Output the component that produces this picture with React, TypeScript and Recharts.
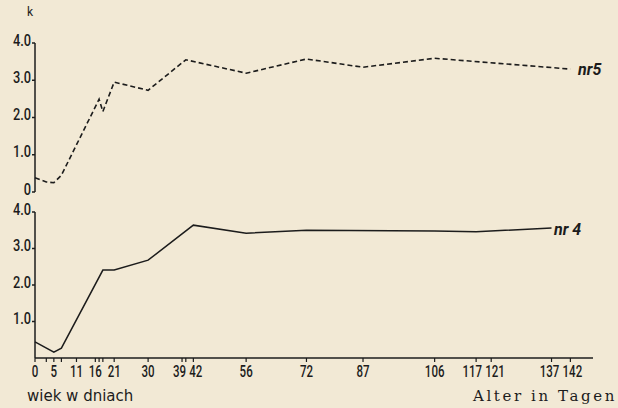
import React from 'react';
import { LineChart, Line, XAxis, YAxis } from 'recharts';

// Days at which ticks are drawn on the shared x axis
const tickDays = [0, 3, 5, 7, 11, 16, 17, 18, 21, 30, 39, 40, 42, 56, 72, 87, 106, 117, 121, 137, 142];
// Days that carry a label
const labeledDays = [0, 5, 11, 16, 21, 30, 39, 42, 56, 72, 87, 106, 117, 121, 137, 142];
const yTicksTop = [0, 1, 2, 3, 4];
const yTicksBottom = [1, 2, 3, 4];

// nr 5 (upper panel, dashed)
const nr5Days = [0, 3, 5, 7, 17, 18, 21, 30, 40, 56, 72, 87, 106, 142];
const nr5Values = [0.38, 0.27, 0.25, 0.45, 2.49, 2.16, 2.95, 2.73, 3.55, 3.19, 3.57, 3.35, 3.59, 3.3];

// nr 4 (lower panel, solid)
const nr4Days = [0, 5, 7, 18, 21, 30, 42, 56, 72, 106, 117, 137];
const nr4Values = [0.44, 0.16, 0.27, 2.41, 2.41, 2.68, 3.64, 3.42, 3.5, 3.48, 3.46, 3.56];

const nr5Data = nr5Days.map((d, i) => ({ day: d, v: nr5Values[i] }));
const nr4Data = nr4Days.map((d, i) => ({ day: d, v: nr4Values[i] }));

const INK = '#1c1c1c';
const BG = '#f2e9d5';
const FONT = 'Roboto, "DejaVu Sans", sans-serif';

const WIDTH = 618;
const PLOT_LEFT = 35;
const PLOT_RIGHT = 25;
const X_MAX = 148;
const PX_PER_DAY = (WIDTH - PLOT_LEFT - PLOT_RIGHT) / X_MAX;
const CHAR_W = 6.6;

const yFmt = (v: number) => (v === 0 ? '0' : v.toFixed(1));
const xFmt = (d: number) => (labeledDays.includes(d) ? String(d) : '');

// nudge crowded neighbouring labels apart (like the printed original)
const overlap = (a: number, b: number) => {
  const need = ((String(a).length + String(b).length) / 2) * CHAR_W + 2;
  const gap = (b - a) * PX_PER_DAY;
  return need > gap ? (need - gap) / 2 + 0.5 : 0;
};
const nudge = (d: number) => {
  const i = labeledDays.indexOf(d);
  let dx = 0;
  if (i > 0) dx += overlap(labeledDays[i - 1], d);
  if (i < labeledDays.length - 1) dx -= overlap(d, labeledDays[i + 1]);
  return dx;
};

const XTick = (props: any) => {
  const { x, y, payload } = props;
  const label = xFmt(payload.value);
  if (!label) return <g />;
  return (
    <g transform={`translate(${x + nudge(payload.value)},${y})`}>
      <text transform="scale(0.72,1)" textAnchor="middle" dy="0.75em" fontFamily={FONT} fontWeight={500} fontSize={16} fill={INK}>
        {label}
      </text>
    </g>
  );
};

const YTick = (props: any) => {
  const { x, y, payload } = props;
  return (
    <g transform={`translate(${x},${y - 3})`}>
      <text transform="scale(0.8,1)" textAnchor="end" dy="0.355em" fontFamily={FONT} fontWeight={500} fontSize={16} fill={INK}>
        {yFmt(payload.value)}
      </text>
    </g>
  );
};

export default function App() {
  return (
    <div style={{ position: 'absolute', left: 0, top: 0, width: WIDTH, height: 408, background: BG, overflow: 'hidden' }}>
      <div style={{ position: 'absolute', left: 0, top: 0 }}>
        <LineChart width={WIDTH} height={200} data={nr5Data} margin={{ top: 43, right: PLOT_RIGHT, bottom: 8, left: 0 }}>
          <XAxis type="number" dataKey="day" domain={[0, X_MAX]} hide />
          <YAxis
            type="number"
            domain={[0, 4]}
            ticks={yTicksTop}
            interval={0}
            width={PLOT_LEFT}
            tick={<YTick />}
            tickSize={3}
            tickMargin={1}
            axisLine={{ stroke: INK, strokeWidth: 1.5 }}
            tickLine={{ stroke: INK, strokeWidth: 1.5 }}
          />
          <Line
            type="linear"
            dataKey="v"
            stroke={INK}
            strokeWidth={1.6}
            strokeDasharray="5 3"
            dot={false}
            isAnimationActive={false}
          />
        </LineChart>
      </div>
      <div style={{ position: 'absolute', left: 0, top: 0 }}>
        <LineChart width={WIDTH} height={408} data={nr4Data} margin={{ top: 212, right: PLOT_RIGHT, bottom: 0, left: 0 }}>
          <XAxis
            type="number"
            dataKey="day"
            domain={[0, X_MAX]}
            ticks={tickDays}
            interval={0}
            height={50}
            tick={<XTick />}
            tickSize={4}
            tickMargin={3}
            axisLine={{ stroke: INK, strokeWidth: 1.5 }}
            tickLine={{ stroke: INK, strokeWidth: 1.2 }}
          />
          <YAxis
            type="number"
            domain={[0, 4]}
            ticks={yTicksBottom}
            interval={0}
            width={PLOT_LEFT}
            tick={<YTick />}
            tickSize={3}
            tickMargin={1}
            axisLine={{ stroke: INK, strokeWidth: 1.5 }}
            tickLine={{ stroke: INK, strokeWidth: 1.5 }}
          />
          <Line type="linear" dataKey="v" stroke={INK} strokeWidth={1.5} dot={false} isAnimationActive={false} />
        </LineChart>
      </div>
      <div style={{ position: 'absolute', left: 27, top: 5, fontFamily: FONT, fontSize: 12, color: INK }}>k</div>
      <div style={{ position: 'absolute', left: 578, top: 60, fontFamily: FONT, fontSize: 16, fontWeight: 'bold', fontStyle: 'italic', color: INK }}>nr5</div>
      <div style={{ position: 'absolute', left: 554, top: 220, fontFamily: FONT, fontSize: 16, fontWeight: 'bold', fontStyle: 'italic', color: INK }}>nr 4</div>
      <div style={{ position: 'absolute', left: 27, top: 387, fontFamily: '"DejaVu Sans", sans-serif', fontSize: 15, color: INK, whiteSpace: 'nowrap' }}>wiek w dniach</div>
      <div style={{ position: 'absolute', left: 473, top: 387, fontFamily: '"DejaVu Serif", serif', fontSize: 15, letterSpacing: 2.6, color: INK, whiteSpace: 'nowrap' }}>Alter in Tagen</div>
    </div>
  );
}
